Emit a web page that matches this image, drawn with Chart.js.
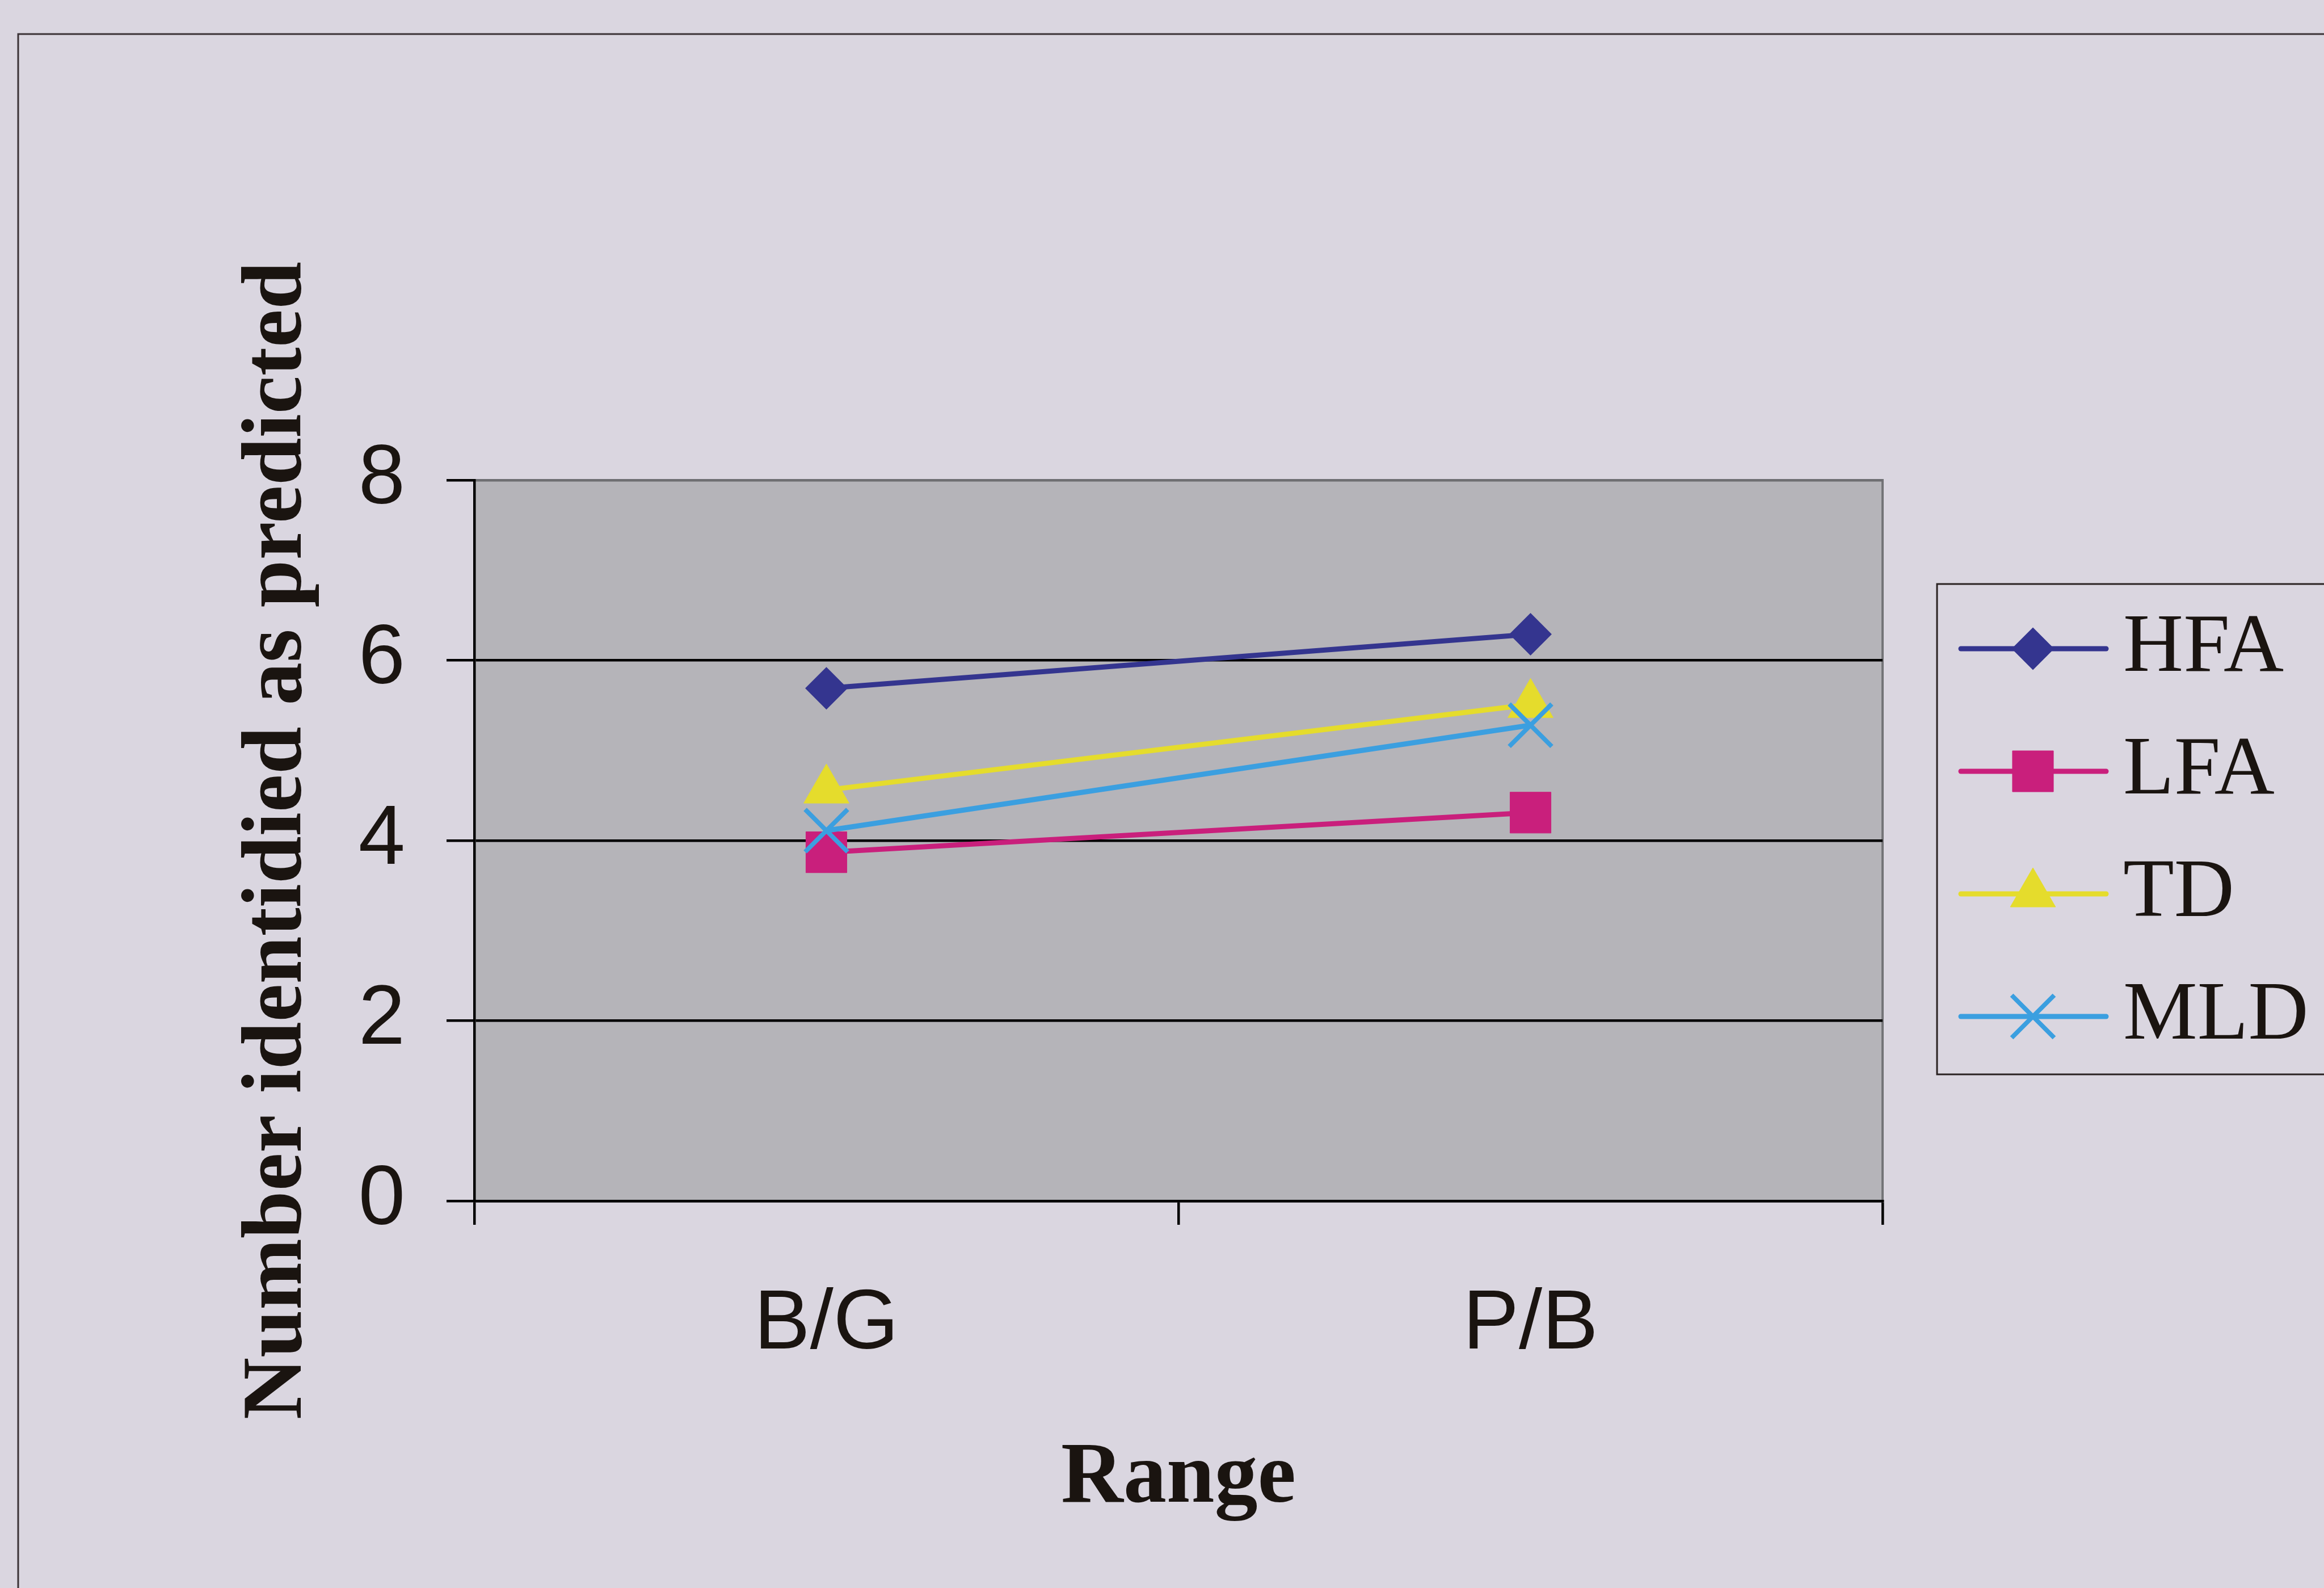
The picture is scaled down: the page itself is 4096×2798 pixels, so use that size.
<!DOCTYPE html>
<html>
<head>
<meta charset="utf-8">
<script src="https://cdn.jsdelivr.net/npm/chart.js@4.4.1/dist/chart.umd.min.js"></script>
<style>
  html, body { margin: 0; padding: 0; background: #dad6e0; }
  canvas { display: block; }
</style>
</head>
<body>
<canvas id="chart" width="4096" height="2798"></canvas>
<script>
// Categories, series and axis ticks
const categories = ['B/G', 'P/B'];
const seriesNames = ['HFA', 'LFA', 'TD', 'MLD'];
const hfaValues = [5.69, 6.29];
const lfaValues = [3.87, 4.31];
const tdValues = [4.56, 5.51];
const mldValues = [4.11, 5.28];
const yTickValues = [0, 2, 4, 6, 8];
const yAxisTitle = 'Number identidied as predicted';
const xAxisTitle = 'Range';

const PAGE_BG = '#dad6e0';
const PLOT_BG = '#b5b4b9';
const INK = '#1a1410';
const SANS = "'Liberation Sans', Arial, sans-serif";
const SERIF = "'Liberation Serif', 'Times New Roman', serif";

// Page background, outer frame and grey plot area
const plotBackground = {
  id: 'plotBackground',
  beforeDraw(chart) {
    const { ctx, chartArea: a, width, height } = chart;
    ctx.save();
    ctx.fillStyle = PAGE_BG;
    ctx.fillRect(0, 0, width, height);
    ctx.strokeStyle = '#3a3236';
    ctx.lineWidth = 3;
    ctx.strokeRect(32, 60, width + 100, height + 100);
    ctx.fillStyle = PLOT_BG;
    ctx.fillRect(a.left, a.top, a.right - a.left, a.bottom - a.top);
    ctx.strokeStyle = '#747478';
    ctx.lineWidth = 4;
    ctx.strokeRect(a.left, a.top, a.right - a.left, a.bottom - a.top);
    ctx.restore();
  }
};

// Boxed legend on the right, built from the dataset styles
const boxedLegend = {
  id: 'boxedLegend',
  afterDraw(chart, args, o) {
    const ctx = chart.ctx;
    ctx.save();
    ctx.strokeStyle = '#2a2222';
    ctx.lineWidth = 3;
    ctx.strokeRect(o.left, o.top, o.width, o.height);
    chart.data.datasets.forEach((ds, i) => {
      const y = o.firstRow + i * o.rowGap;
      ctx.strokeStyle = ds.borderColor;
      ctx.lineWidth = ds.borderWidth;
      ctx.lineCap = 'round';
      ctx.beginPath();
      ctx.moveTo(o.lineStart, y);
      ctx.lineTo(o.lineEnd, y);
      ctx.stroke();
      ctx.fillStyle = ds.pointBackgroundColor;
      ctx.strokeStyle = ds.pointBorderColor;
      ctx.lineWidth = ds.pointBorderWidth;
      ctx.lineCap = 'butt';
      Chart.helpers.drawPoint(ctx, {
        pointStyle: ds.pointStyle,
        radius: ds.pointRadius,
        rotation: 0,
        borderWidth: ds.pointBorderWidth
      }, o.markerX, y);
      ctx.fillStyle = INK;
      ctx.font = `147px ${SERIF}`;
      ctx.textAlign = 'left';
      ctx.textBaseline = 'middle';
      ctx.fillText(ds.label, o.textX, y);
    });
    ctx.restore();
  }
};

function series(label, data, color, style, radius, borderW, order) {
  return {
    label, data, order,
    borderColor: color,
    backgroundColor: color,
    borderWidth: 9,
    tension: 0,
    pointStyle: style,
    pointRadius: radius,
    pointHoverRadius: radius,
    pointBackgroundColor: color,
    pointBorderColor: color,
    pointBorderWidth: borderW
  };
}

new Chart(document.getElementById('chart'), {
  type: 'line',
  data: {
    labels: categories,
    datasets: [
      series(seriesNames[0], hfaValues, '#34358f', 'rectRot', 36, 2, 3),
      series(seriesNames[1], lfaValues, '#c91f7c', 'rect', 51, 1, 2),
      series(seriesNames[2], tdValues, '#e5dc2c', 'triangle', 46, 1, 1),
      series(seriesNames[3], mldValues, '#3b9fe0', 'crossRot', 53, 8, 0)
    ]
  },
  options: {
    responsive: false,
    animation: false,
    devicePixelRatio: 1,
    layout: { padding: { left: 0, top: 846, right: 778, bottom: 0 } },
    plugins: {
      legend: { display: false },
      tooltip: { enabled: false },
      boxedLegend: {
        left: 3414, top: 1029, width: 900, height: 864,
        firstRow: 1143, rowGap: 216,
        lineStart: 3456, lineEnd: 3712, markerX: 3583, textX: 3742
      }
    },
    scales: {
      x: {
        type: 'category',
        offset: true,
        afterFit(s) { s.height = 682; },
        grid: {
          offset: true,
          drawOnChartArea: false,
          drawTicks: true,
          tickLength: 42,
          color: '#000',
          lineWidth: 4.5
        },
        border: { display: true, color: '#000', width: 4.5 },
        ticks: { color: INK, padding: 88, font: { family: SANS, size: 148 } },
        title: {
          display: true,
          text: xAxisTitle,
          color: INK,
          font: { family: SERIF, size: 152, weight: 'bold' },
          padding: { top: 0, bottom: 100 }
        }
      },
      y: {
        type: 'linear',
        min: 0,
        max: 8,
        afterFit(s) { s.width = 836; },
        afterBuildTicks(s) { s.ticks = yTickValues.map(v => ({ value: v })); },
        grid: {
          drawOnChartArea: true,
          drawTicks: true,
          tickLength: 49,
          color: ctx => (ctx.tick && ctx.tick.value === 8 ? '#6e6e72' : '#000'),
          tickColor: '#000',
          lineWidth: 4.5
        },
        border: { display: true, color: '#000', width: 4.5 },
        ticks: { color: INK, padding: 73, font: { family: SANS, size: 148 } },
        title: {
          display: true,
          text: yAxisTitle,
          color: INK,
          font: { family: SERIF, size: 151, weight: 'bold' },
          padding: { top: 400, bottom: 0 }
        }
      }
    }
  },
  plugins: [plotBackground, boxedLegend]
});
</script>
</body>
</html>
